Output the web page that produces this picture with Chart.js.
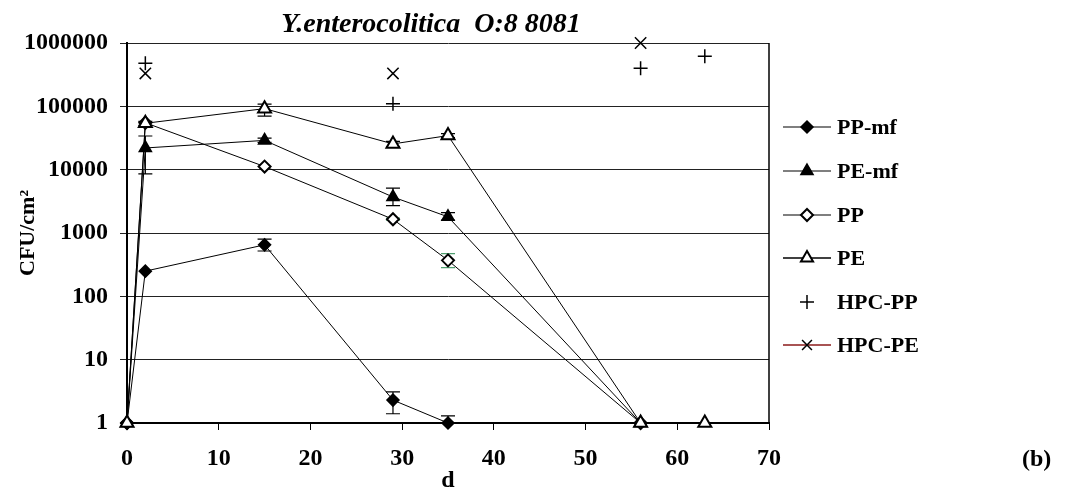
<!DOCTYPE html>
<html>
<head>
<meta charset="utf-8">
<script src="https://cdn.jsdelivr.net/npm/chart.js@4.4.1/dist/chart.umd.min.js"></script>
<style>
  body { margin: 0; background: #fff; }
  #wrap { width: 1066px; height: 495px; }
</style>
</head>
<body>
<div id="wrap"><canvas id="cfuChart" width="1066" height="495"></canvas></div>
<script>
const chartTitle = 'Y.enterocolitica  O:8 8081';
const panelLabel = '(b)';
const xTitle = 'd';
const yTitle = 'CFU/cm²';
const xTicks = [0, 10, 20, 30, 40, 50, 60, 70];
const yTicks = [1, 10, 100, 1000, 10000, 100000, 1000000];

// PP-mf
const ppmfDays = [0, 2, 15, 29, 35];
const ppmfCfu = [1, 250, 650, 2.3, 1];
const ppmfLow = [null, null, 520, 1.4, 1];
const ppmfHigh = [null, null, 800, 3.1, 1.3];

// PE-mf
const pemfDays = [0, 2, 15, 29, 35, 56];
const pemfCfu = [1, 22000, 29000, 3700, 1800, 1];
const pemfLow = [null, 8600, 27000, 2700, 1600, null];
const pemfHigh = [null, 34000, 31500, 5100, 2100, null];

// PP
const ppDays = [0, 2, 15, 29, 35, 56];
const ppCfu = [1, 55000, 11200, 1650, 370, 1];
const ppLow = [null, null, null, 1600, 283, null];
const ppHigh = [null, null, null, 1720, 471, null];

// PE
const peDays = [0, 2, 15, 29, 35, 56, 63];
const peCfu = [1, 54000, 92000, 25500, 34500, 1, 1];
const peLow = [null, 50000, 70000, 23000, 32000, null, null];
const peHigh = [null, 58000, 108000, 28000, 37000, null, null];

// HPC
const hpcPpDays = [2, 29, 56, 63];
const hpcPpCfu = [480000, 110000, 400000, 620000];
const hpcPeDays = [2, 29, 56];
const hpcPeCfu = [330000, 330000, 1000000];

const serif = '"Liberation Serif", "Times New Roman", serif';

const toPoints = (days, vals) => days.map((d, i) => ({ x: d, y: vals[i] }));

const makeSeries = (label, days, vals, style) => Object.assign({
  label: label,
  data: toPoints(days, vals),
  showLine: true,
  borderColor: '#000',
  borderWidth: 1,
  pointBorderColor: '#000',
  pointBorderWidth: 1.5,
  clip: false,
  order: 0,
  legendLine: '#555'
}, style);

const datasets = [
  makeSeries('PP-mf', ppmfDays, ppmfCfu, {
    pointStyle: 'rectRot', pointRadius: 6, pointBackgroundColor: '#000',
    errLow: ppmfLow, errHigh: ppmfHigh, errColor: '#000'
  }),
  makeSeries('PE-mf', pemfDays, pemfCfu, {
    pointStyle: 'triangle', pointRadius: 7, pointBackgroundColor: '#000',
    errLow: pemfLow, errHigh: pemfHigh, errColor: '#000'
  }),
  makeSeries('PP', ppDays, ppCfu, {
    pointStyle: 'rectRot', pointRadius: 6, pointBackgroundColor: '#fff', pointBorderWidth: 2,
    errLow: ppLow, errHigh: ppHigh, errColor: '#4f9f6f'
  }),
  makeSeries('PE', peDays, peCfu, {
    pointStyle: 'triangle', pointRadius: 7.5, pointBackgroundColor: '#fff', pointBorderWidth: 2,
    errLow: peLow, errHigh: peHigh, errColor: '#000', legendLine: '#000', order: -1
  }),
  makeSeries('HPC-PP', hpcPpDays, hpcPpCfu, {
    showLine: false, pointStyle: 'cross', pointRadius: 7, legendLine: null
  }),
  makeSeries('HPC-PE', hpcPeDays, hpcPeCfu, {
    showLine: false, pointStyle: 'crossRot', pointRadius: 8, legendLine: '#8b1a1a', order: -2
  })
];

// error bars, drawn under the markers
const errorBars = {
  id: 'errorBars',
  beforeDatasetsDraw(chart) {
    const ctx = chart.ctx;
    const xs = chart.scales.x, ys = chart.scales.y;
    chart.data.datasets.forEach(ds => {
      if (!ds.errLow) return;
      ds.data.forEach((p, i) => {
        const lo = ds.errLow[i], hi = ds.errHigh[i];
        if (lo == null || hi == null) return;
        const px = xs.getPixelForValue(p.x);
        const y1 = ys.getPixelForValue(lo), y2 = ys.getPixelForValue(hi);
        ctx.save();
        ctx.strokeStyle = ds.errColor;
        ctx.lineWidth = 1.2;
        ctx.beginPath();
        ctx.moveTo(px, y1); ctx.lineTo(px, y2);
        ctx.moveTo(px - 7, y1); ctx.lineTo(px + 7, y1);
        ctx.moveTo(px - 7, y2); ctx.lineTo(px + 7, y2);
        ctx.stroke();
        ctx.restore();
      });
    });
  }
};

// right border of the plot box, title, panel label and legend
const decorations = {
  id: 'decorations',
  afterDraw(chart) {
    const ctx = chart.ctx;
    const a = chart.chartArea;
    ctx.save();
    ctx.strokeStyle = '#000';
    ctx.lineWidth = 1.5;
    ctx.beginPath();
    ctx.moveTo(a.right, a.top); ctx.lineTo(a.right, a.bottom);
    ctx.stroke();

    ctx.fillStyle = '#000';
    ctx.font = 'italic bold 28px ' + serif;
    ctx.textAlign = 'center';
    ctx.textBaseline = 'alphabetic';
    ctx.fillText(chartTitle, 431, 32);

    ctx.font = 'bold 24px ' + serif;
    ctx.textAlign = 'left';
    ctx.fillText(panelLabel, 1022, 466);

    // legend
    const rowY = [127, 171, 215, 258, 302, 345];
    ctx.font = 'bold 22px ' + serif;
    ctx.textBaseline = 'middle';
    chart.data.datasets.forEach((ds, i) => {
      const y = rowY[i];
      if (ds.legendLine) {
        ctx.strokeStyle = ds.legendLine;
        ctx.lineWidth = 1.3;
        ctx.beginPath();
        ctx.moveTo(783, y); ctx.lineTo(831, y);
        ctx.stroke();
      }
      ctx.strokeStyle = '#000';
      ctx.fillStyle = ds.pointBackgroundColor || '#000';
      ctx.lineWidth = ds.pointBorderWidth;
      const r = ds.pointStyle === 'triangle' ? 7 : (ds.pointStyle === 'rectRot' ? 6 : 7);
      Chart.helpers.drawPoint(ctx, { pointStyle: ds.pointStyle, radius: r, rotation: 0, borderWidth: ds.pointBorderWidth }, 807, y);
      ctx.fillStyle = '#000';
      ctx.fillText(ds.label, 837, y + 1);
    });
    ctx.restore();
  }
};

new Chart(document.getElementById('cfuChart'), {
  type: 'scatter',
  data: { datasets: datasets },
  options: {
    responsive: false,
    animation: false,
    layout: { padding: { top: 43, right: 297, left: 0, bottom: 0 } },
    plugins: {
      legend: { display: false },
      tooltip: { enabled: false },
      title: { display: false }
    },
    scales: {
      x: {
        type: 'linear',
        min: 0,
        max: 70,
        afterBuildTicks: s => { s.ticks = xTicks.map(v => ({ value: v })); },
        afterFit: s => { s.height = 72; },
        ticks: { color: '#000', padding: 14, font: { family: serif, size: 24, weight: 'bold' } },
        grid: { drawOnChartArea: false, drawTicks: true, tickLength: 7, color: '#000' },
        border: { display: true, color: '#000', width: 2 },
        title: {
          display: true, text: xTitle, color: '#000',
          font: { family: serif, size: 24, weight: 'bold' },
          padding: { top: 0, bottom: 0 }
        }
      },
      y: {
        type: 'logarithmic',
        min: 1,
        max: 1000000,
        afterBuildTicks: s => { s.ticks = yTicks.map(v => ({ value: v })); },
        afterFit: s => { s.width = 127; },
        ticks: {
          color: '#000', padding: 12,
          font: { family: serif, size: 24, weight: 'bold' },
          callback: v => String(v)
        },
        grid: { color: '#222', lineWidth: 1, tickLength: 7, drawTicks: true },
        border: { display: true, color: '#000', width: 2 },
        title: {
          display: true, text: yTitle, color: '#000',
          font: { family: serif, size: 22, weight: 'bold' },
          padding: { top: 15, bottom: 0 }
        }
      }
    }
  },
  plugins: [errorBars, decorations]
});
</script>
</body>
</html>
